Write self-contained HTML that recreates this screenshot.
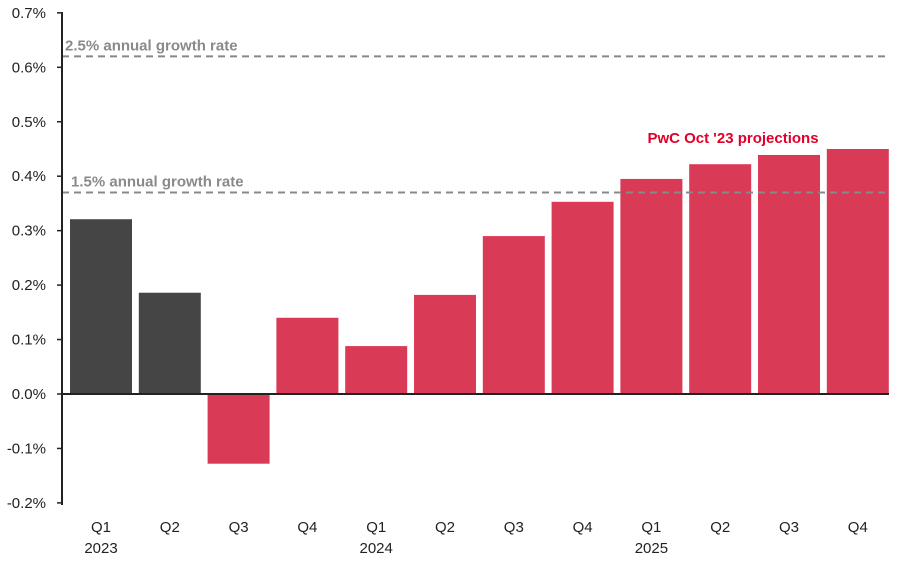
<!DOCTYPE html>
<html><head><meta charset="utf-8"><style>
html,body{margin:0;padding:0;background:#fff;}
svg{display:block;font-family:"Liberation Sans",sans-serif;}
</style></head><body>
<svg id="chart" width="899" height="569" viewBox="0 0 899 569"></svg>
<script>
const quarters=["Q1","Q2","Q3","Q4","Q1","Q2","Q3","Q4","Q1","Q2","Q3","Q4"];
const years=["2023","","","","2024","","","","2025","","",""];
const values=[0.321,0.186,-0.128,0.140,0.088,0.182,0.290,0.353,0.395,0.422,0.439,0.450];
const actualCount=2;
const yTicks=[-0.2,-0.1,0,0.1,0.2,0.3,0.4,0.5,0.6,0.7];
const refLines=[0.62,0.37];
const refLabels=["2.5% annual growth rate","1.5% annual growth rate"];
const svg=document.getElementById('chart');
const NS='http://www.w3.org/2000/svg';
const y0=394,pxPer=544.5,left=62,bandStart=67,band=68.8,barW=62;
const y=v=>y0-v*pxPer;
const x=i=>bandStart+i*band;
function mk(t,a,p){const e=document.createElementNS(NS,t);for(const k in a)e.setAttribute(k,a[k]);(p||svg).appendChild(e);return e;}
yTicks.forEach((t,i)=>{
  const tx=mk('text',{x:46,y:y(t)+5,'text-anchor':'end','font-size':15,fill:'#222'});
  tx.textContent=t.toFixed(1)+'%';
  
  
  const tk=mk('line',{x1:left-5,x2:left,y1:y(t),y2:y(t),stroke:'#222','stroke-width':1.5});
  
  
});
values.forEach((v,i)=>{
  const top=Math.min(y(v),y0),h=Math.abs(y(v)-y0);
  const r=mk('rect',{x:x(i)+3,y:top,width:barW,height:h,fill:i<actualCount?'#454545':'#d93a56'});
  
  
  const q=mk('text',{x:x(i)+3+barW/2,y:532,'text-anchor':'middle','font-size':15,fill:'#222'});
  q.textContent=quarters[i];
  
  
  if(years[i]){
    const yr=mk('text',{x:x(i)+3+barW/2,y:553,'text-anchor':'middle','font-size':15,fill:'#222'});
    yr.textContent=years[i];
    
    
  }
});
refLines.forEach((v,i)=>{
  const l=mk('line',{x1:left,x2:888,y1:y(v),y2:y(v),stroke:'#888','stroke-width':2,'stroke-dasharray':'7,5'});
  
  
  const t=mk('text',{x:i==0?65:71,y:y(v)-6,'font-size':15,'font-weight':'bold',fill:'#8a8a8a'});
  t.textContent=refLabels[i];
  
  
});
const ya=mk('line',{x1:left,x2:left,y1:12,y2:505,stroke:'#222','stroke-width':2});


const xa=mk('line',{x1:left,x2:889,y1:y0,y2:y0,stroke:'#222','stroke-width':2});


const ann=mk('text',{x:733,y:143,'text-anchor':'middle','font-size':15,'font-weight':'bold',fill:'#e0002a'});
ann.textContent="PwC Oct '23 projections";


</script>
</body></html>
